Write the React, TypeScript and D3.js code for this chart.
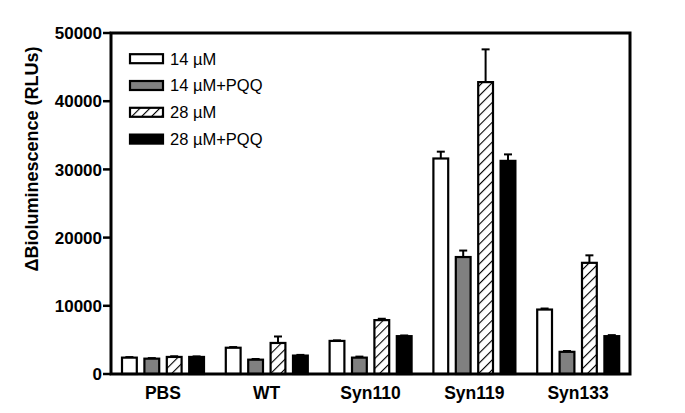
import React from "react";
import * as d3 from "d3";

const categories = ["PBS", "WT", "Syn110", "Syn119", "Syn133"];
const seriesNames = ["14 \u00b5M", "14 \u00b5M+PQQ", "28 \u00b5M", "28 \u00b5M+PQQ"];
const values14 = [2400, 3850, 4850, 31600, 9450];
const values14PQQ = [2250, 2100, 2400, 17150, 3250];
const values28 = [2500, 4550, 7900, 42800, 16300];
const values28PQQ = [2500, 2700, 5550, 31250, 5550];
const err14 = [80, 100, 80, 1000, 150];
const err14PQQ = [80, 100, 150, 950, 120];
const err28 = [100, 950, 200, 4800, 1100];
const err28PQQ = [80, 100, 100, 950, 150];
const yTicks = [0, 10000, 20000, 30000, 40000, 50000];

const seriesValues = [values14, values14PQQ, values28, values28PQQ];
const seriesErrors = [err14, err14PQQ, err28, err28PQQ];
const fills = ["#ffffff", "#808080", "url(#hatch)", "#000000"];

export default function App() {
  const W = 685, H = 413;
  const left = 111, right = 630, top = 33, bottom = 374;
  const x = d3.scaleBand<string>().domain(categories).range([left, right]).padding(0);
  const inner = d3.scaleBand<number>().domain([0, 1, 2, 3]).range([10, 94]).paddingInner(0.25).paddingOuter(0);
  const y = d3.scaleLinear().domain([0, 50000]).range([bottom, top]);
  const bw = inner.bandwidth();
  const font = "Arial, 'Liberation Sans', Helvetica, sans-serif";

  return (
    <svg width={W} height={H} style={{ position: "absolute", left: 0, top: 0, background: "#fff" }}>
      <defs>
        <pattern id="hatch" patternUnits="userSpaceOnUse" width="7" height="7" patternTransform="rotate(45)">
          <rect width="7" height="7" fill="#fff" />
          <line x1="0" y1="0" x2="0" y2="7" stroke="#000" strokeWidth="2.2" />
        </pattern>
      </defs>
      <rect x={0} y={0} width={W} height={H} fill="#fff" />
      {categories.map((c, ci) =>
        seriesValues.map((vals, si) => {
          const bx = (x(c) as number) + (inner(si) as number);
          const v = vals[ci];
          const e = seriesErrors[si][ci];
          const cx = bx + bw / 2;
          return (
            <g key={c + si}>
              <line x1={cx} x2={cx} y1={y(v)} y2={y(v + e)} stroke="#000" strokeWidth={2} />
              <line x1={cx - 4} x2={cx + 4} y1={y(v + e)} y2={y(v + e)} stroke="#000" strokeWidth={2} />
              <rect x={bx + 1} y={y(v)} width={bw - 2} height={y(0) - y(v)} fill={fills[si]} stroke="#000" strokeWidth={2.2} />
            </g>
          );
        })
      )}
      <rect x={left} y={top} width={right - left} height={bottom - top} fill="none" stroke="#000" strokeWidth={3} />
      {yTicks.map((t) => (
        <g key={t}>
          <line x1={left - 8} x2={left} y1={y(t)} y2={y(t)} stroke="#000" strokeWidth={2.5} />
          <text x={left - 9} y={y(t)} dy="0.36em" textAnchor="end" fontFamily={font} fontWeight="bold" fontSize={17} fill="#000">
            {t}
          </text>
        </g>
      ))}
      {categories.map((c) => (
        <text key={c} x={(x(c) as number) + x.bandwidth() / 2} y={399} textAnchor="middle" fontFamily={font} fontWeight="bold" fontSize={17.5} fill="#000">
          {c}
        </text>
      ))}
      <text transform={`translate(38,159) rotate(-90)`} textAnchor="middle" fontFamily={font} fontWeight="bold" fontSize={18} fill="#000">
        {"\u0394Bioluminescence (RLUs)"}
      </text>
      {seriesNames.map((n, i) => {
        const ly = 58.7 + i * 26.8;
        return (
          <g key={n}>
            <rect x={130} y={ly - 4.5} width={33} height={9} fill={fills[i]} stroke="#000" strokeWidth={2.2} />
            <text x={170} y={ly} dy="0.36em" fontFamily={font} fontSize={16.5} fill="#000">
              {n}
            </text>
          </g>
        );
      })}
    </svg>
  );
}
